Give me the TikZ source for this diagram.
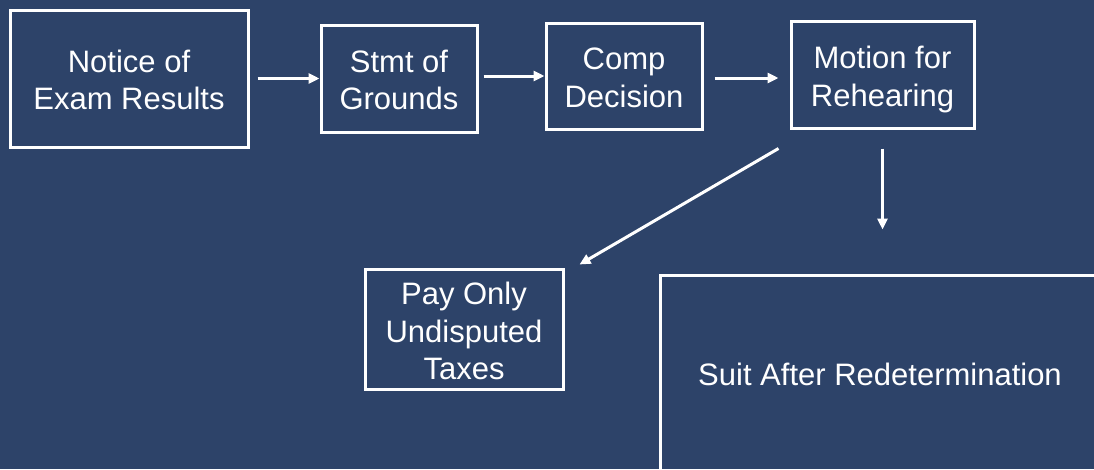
\documentclass[tikz,border=0pt]{standalone}
\usepackage{fontspec}
\setmainfont{Liberation Sans}
\usetikzlibrary{arrows.meta,calc}
\definecolor{bg}{RGB}{45,67,105}
\tikzset{
  box/.style={draw=white, line width=3pt, inner sep=0pt},
  txt/.style={text=white, align=center, inner sep=0pt,
    font=\fontsize{31}{37.5}\selectfont},
  arr/.style={draw=white, line width=3pt, -{Triangle[length=11pt,width=10pt]}}
}
\begin{document}
\begin{tikzpicture}[x=1pt,y=-1pt]
\fill[bg] (0,0) rectangle (1094,469);
\useasboundingbox (0,0) rectangle (1094,469);
\clip (0,0) rectangle (1094,469);
\node[box, minimum width=238pt, minimum height=137pt] (n1) at (129,78.5) {};
\node[box, minimum width=156pt, minimum height=107pt] (n2) at (399,78.5) {};
\node[box, minimum width=156pt, minimum height=106pt] (n3) at (624,76) {};
\node[box, minimum width=183pt, minimum height=107pt] (n4) at (882.5,74.5) {};
\node[box, minimum width=198pt, minimum height=120pt] (n5) at (464,329) {};
\node[box, minimum width=440pt, minimum height=200pt] (n6) at (880,375) {};
\node[txt] (t1) at ($(n1)+(0,1.5)$) {Notice of\\Exam Results};
\node[txt] (t2) at ($(n2)+(0,1.5)$) {Stmt of\\Grounds};
\node[txt] (t3) at ($(n3)+(0,2)$) {Comp\\Decision};
\node[txt] (t4) at ($(n4)+(0,5)$) {Motion for\\Rehearing};
\node[txt] (t5) at ($(n5)+(0,2)$) {Pay Only\\Undisputed\\Taxes};
\node[txt] (t6) at ($(n6)+(0,-1)$) {Suit After Redetermination};
\draw[arr] ($(n1.east)+(8,0)$) -- (n2.west);
\draw[arr] ($(n2.east |- n3.west)+(5,0)$) -- (n3.west);
\draw[arr] ($(n3.east)+(11,2)$) -- ($(n4.west)+(-11,3.5)$);
\draw[arr] ($(n4.south west)+(-11,19)$) -- ($(n5.north east)+(15,-3)$);
\draw[arr] ($(n4.south)+(0,19)$) -- ($(n4.south)+(0,100)$);
\end{tikzpicture}
\end{document}
